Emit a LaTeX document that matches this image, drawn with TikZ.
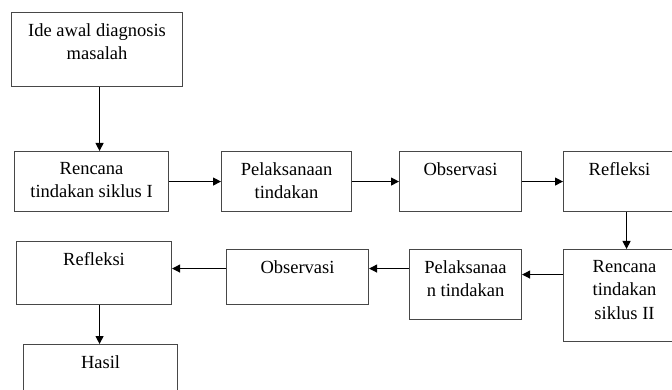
\documentclass[tikz,border=0pt]{standalone}
\usepackage{fontspec}
\setmainfont{Liberation Serif}
\usetikzlibrary{arrows.meta}
\begin{document}
\begin{tikzpicture}[x=1pt,y=-1pt,
  box/.style={draw=black!72,line width=1.1pt,inner sep=0pt,anchor=north west},
  txt/.style={anchor=north,inner sep=0pt,align=center,text=black,font=\fontsize{18.5}{23.5}\selectfont},
  arr/.style={draw=black,line width=1.1pt,-{Triangle[length=8pt,width=8pt]}}]
\useasboundingbox (0,0) rectangle (672,390);
\clip (0,0) rectangle (672,390);
% boxes
\node[box,minimum width=171pt,minimum height=74pt] (A) at (11,12) {};
\node[box,minimum width=154pt,minimum height=60pt] (B) at (14,151) {};
\node[box,minimum width=130pt,minimum height=60pt] (C) at (221,151) {};
\node[box,minimum width=122pt,minimum height=60pt] (D) at (399,151) {};
\node[box,minimum width=112pt,minimum height=60pt] (E) at (563,151) {};
\node[box,minimum width=122pt,minimum height=92pt] (F) at (563,249) {};
\node[box,minimum width=112pt,minimum height=70pt] (G) at (409,249) {};
\node[box,minimum width=142pt,minimum height=55pt] (H) at (226,249) {};
\node[box,minimum width=155pt,minimum height=63pt] (I) at (16,241) {};
\node[box,minimum width=154pt,minimum height=60pt] (J) at (23,344) {};
% texts
\node[txt] (At) at ([yshift=-11pt]A.north) {Ide awal diagnosis\\masalah};
\node[txt] (Bt) at ([yshift=-11pt]B.north) {Rencana\\tindakan siklus I};
\node[txt] (Ct) at ([yshift=-11pt]C.north) {Pelaksanaan\\tindakan};
\node[txt] (Dt) at ([yshift=-11pt]D.north) {Observasi};
\node[txt] (Et) at ([yshift=-11pt]E.north) {Refleksi};
\node[txt] (Ft) at ([yshift=-11pt]F.north) {Rencana\\tindakan\\siklus II};
\node[txt] (Gt) at ([yshift=-11pt]G.north) {Pelaksanaa\\n tindakan};
\node[txt] (Ht) at ([yshift=-11pt]H.north) {Observasi};
\node[txt] (It) at ([yshift=-11pt]I.north) {Refleksi};
\node[txt] (Jt) at ([yshift=-11pt]J.north) {Hasil};
% connectors
\draw[arr] ([xshift=2.5pt]A.south) -- ([xshift=2.5pt]A.south |- B.north);
\draw[arr] (B.east) -- (C.west);
\draw[arr] (C.east) -- (D.west);
\draw[arr] (D.east) -- (E.west);
\draw[arr] ([xshift=7pt]E.south) -- ([xshift=7pt]E.south |- F.north);
\draw[arr] ([yshift=21pt]F.west) -- ([yshift=21pt]F.west -| G.east);
\draw[arr] ([yshift=16pt]G.west) -- ([yshift=16pt]G.west -| H.east);
\draw[arr] ([yshift=8.5pt]H.west) -- ([yshift=8.5pt]H.west -| I.east);
\draw[arr] ([xshift=5.5pt]I.south) -- ([xshift=5.5pt]I.south |- J.north);
\end{tikzpicture}
\end{document}
